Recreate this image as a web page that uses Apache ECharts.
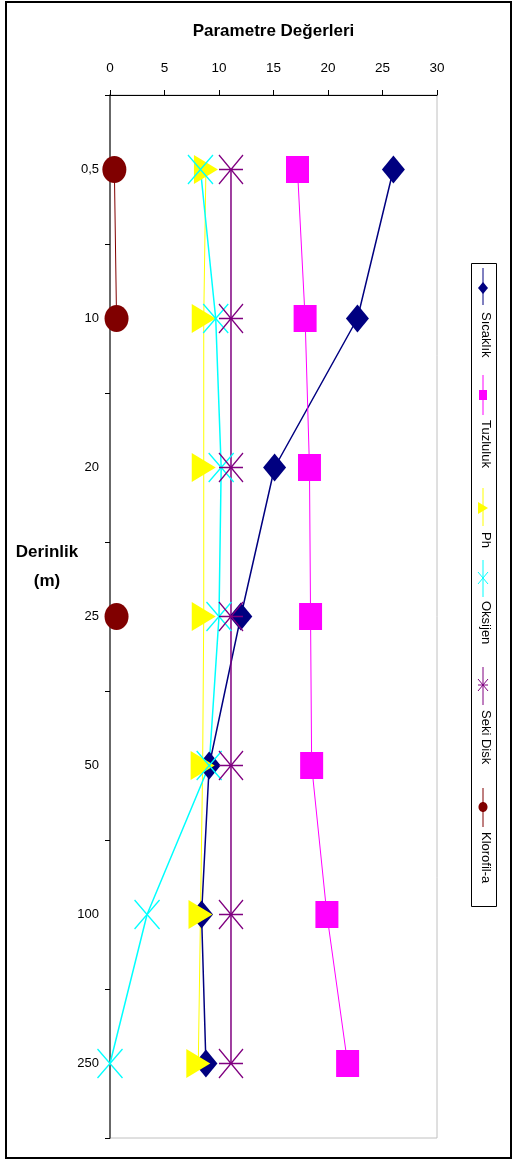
<!DOCTYPE html>
<html>
<head>
<meta charset="utf-8">
<script src="https://cdn.jsdelivr.net/npm/echarts@6/dist/echarts.min.js"></script>
<style>
html,body{margin:0;padding:0;background:#fff;}
#c{width:513px;height:1162px;}
</style>
</head>
<body>
<div id="c"></div>
<script>
// ---- data ----
var depths = ['0,5', '10', '20', '25', '50', '100', '250'];
var xTicks = [0, 5, 10, 15, 20, 25, 30];
var seriesNames = ['Sıcaklık', 'Tuzluluk', 'Ph', 'Oksijen', 'Seki Disk', 'Klorofil-a'];
var sicaklik = [26.0, 22.7, 15.1, 12.0, 9.1, 8.4, 8.8];
var tuzluluk = [17.2, 17.9, 18.3, 18.4, 18.5, 19.9, 21.8];
var ph = [8.8, 8.6, 8.6, 8.6, 8.5, 8.3, 8.1];
var oksijen = [8.3, 9.7, 10.2, 10.0, 9.1, 3.4, 0.0];
var sekiDisk = [11.1, 11.1, 11.1, 11.1, 11.1, 11.1, 11.1];
var klorofil = [0.4, 0.6, null, 0.6, null, null, null];

var FONT = '"Liberation Sans", Arial, sans-serif';
var colors = ['#000080', '#FF00FF', '#FFFF00', '#00FFFF', '#800080', '#800000'];
var X_PATH = 'path://M0,0L10,10M10,0L0,10';
var AST_PATH = 'path://M0,0L10,10M10,0L0,10M0,5L10,5';

function mkSeries(name, data, color, symbol, size, lw, extra) {
  var s = {
    name: name, type: 'line', data: data,
    symbol: symbol, symbolSize: size,
    lineStyle: { color: color, width: lw },
    itemStyle: { color: color },
    connectNulls: false,
    animation: false,
    z: 2
  };
  for (var k in extra) s[k] = extra[k];
  return s;
}

var chart = echarts.init(document.getElementById('c'));

// legend (rotated) built from graphic elements
var legendPos = [
  { l0: 268, l1: 305, m: 288, t: 312 },
  { l0: 375, l1: 415, m: 395, t: 420 },
  { l0: 488, l1: 526, m: 508, t: 532 },
  { l0: 560, l1: 597, m: 578, t: 601 },
  { l0: 667, l1: 705, m: 685, t: 710 },
  { l0: 788, l1: 827, m: 807, t: 832 }
];
var LX = 483;
var g = [];
g.push({ type: 'rect', shape: { x: 471.5, y: 263.5, width: 25, height: 643 },
  style: { fill: '#fff', stroke: '#000', lineWidth: 1 }, z: 10 });
seriesNames.forEach(function (nm, i) {
  var p = legendPos[i], c = colors[i];
  g.push({ type: 'line', shape: { x1: LX, y1: p.l0, x2: LX, y2: p.l1 }, style: { stroke: c, lineWidth: 1 }, z: 11 });
  var m = p.m;
  if (i === 0) g.push({ type: 'polygon', shape: { points: [[LX, m - 6], [LX + 5, m], [LX, m + 6], [LX - 5, m]] }, style: { fill: c }, z: 12 });
  if (i === 1) g.push({ type: 'rect', shape: { x: LX - 4, y: m - 5, width: 8, height: 10 }, style: { fill: c }, z: 12 });
  if (i === 2) g.push({ type: 'polygon', shape: { points: [[LX - 5, m - 6], [LX + 5, m], [LX - 5, m + 6]] }, style: { fill: c }, z: 12 });
  if (i === 3 || i === 4) {
    g.push({ type: 'line', shape: { x1: LX - 5, y1: m - 6, x2: LX + 5, y2: m + 6 }, style: { stroke: c, lineWidth: 1 }, z: 12 });
    g.push({ type: 'line', shape: { x1: LX + 5, y1: m - 6, x2: LX - 5, y2: m + 6 }, style: { stroke: c, lineWidth: 1 }, z: 12 });
    if (i === 4) g.push({ type: 'line', shape: { x1: LX - 5, y1: m, x2: LX + 5, y2: m }, style: { stroke: c, lineWidth: 1 }, z: 12 });
  }
  if (i === 5) g.push({ type: 'ellipse', shape: { cx: LX, cy: m, rx: 4.5, ry: 5 }, style: { fill: c }, z: 12 });
  g.push({ type: 'text', x: 486, y: p.t, rotation: -Math.PI / 2,
    style: { text: nm, x: 0, y: 0, align: 'left', verticalAlign: 'middle', fill: '#000', font: '13px ' + FONT }, z: 12 });
});
// outer frame
g.push({ type: 'rect', shape: { x: 6, y: 2, width: 505, height: 1156 },
  style: { fill: 'none', stroke: '#000', lineWidth: 2 }, z: 0, silent: true });
// y axis title
g.push({ type: 'text', x: 47, y: 552, style: { text: 'Derinlik', align: 'center', verticalAlign: 'middle', fill: '#000', font: 'bold 17px ' + FONT } });
g.push({ type: 'text', x: 47, y: 581, style: { text: '(m)', align: 'center', verticalAlign: 'middle', fill: '#000', font: 'bold 17px ' + FONT } });

chart.setOption({
  animation: false,
  backgroundColor: '#fff',
  grid: { left: 110, right: 76, top: 95, bottom: 24, show: true, borderColor: '#c0c0c0', borderWidth: 1, backgroundColor: 'transparent' },
  xAxis: {
    type: 'value', position: 'top', min: xTicks[0], max: xTicks[xTicks.length - 1], interval: 5,
    name: 'Parametre Değerleri', nameLocation: 'middle', nameGap: 55,
    nameTextStyle: { fontFamily: FONT, fontWeight: 'bold', fontSize: 17, color: '#000' },
    axisLine: { show: true, lineStyle: { color: '#000', width: 1 } },
    axisTick: { show: true, inside: false, length: 5, lineStyle: { color: '#000' } },
    axisLabel: { fontFamily: FONT, fontSize: 13.5, color: '#000', margin: 20 },
    splitLine: { show: false }
  },
  yAxis: {
    type: 'category', data: depths, inverse: true, boundaryGap: true,
    axisLine: { show: true, lineStyle: { color: '#404040', width: 1.5 } },
    axisTick: { show: true, inside: false, length: 5, alignWithLabel: false, lineStyle: { color: '#000' } },
    axisLabel: { fontFamily: FONT, fontSize: 13, color: '#000', margin: 11 },
    splitLine: { show: false }
  },
  series: [
    mkSeries(seriesNames[0], sicaklik, colors[0], 'diamond', [23, 28], 1.5, {}),
    mkSeries(seriesNames[1], tuzluluk, colors[1], 'rect', [23, 27], 1, {}),
    mkSeries(seriesNames[2], ph, colors[2], 'triangle', [29, 24], 1, { symbolRotate: -90 }),
    mkSeries(seriesNames[3], oksijen, colors[3], X_PATH, [25, 29], 1.5, { itemStyle: { color: 'none', borderColor: colors[3], borderWidth: 1.5 } }),
    mkSeries(seriesNames[4], sekiDisk, colors[4], AST_PATH, [24, 29], 1.5, { itemStyle: { color: 'none', borderColor: colors[4], borderWidth: 1.5 } }),
    mkSeries(seriesNames[5], klorofil, colors[5], 'circle', [24, 27], 1, {})
  ],
  graphic: g
});
</script>
</body>
</html>
